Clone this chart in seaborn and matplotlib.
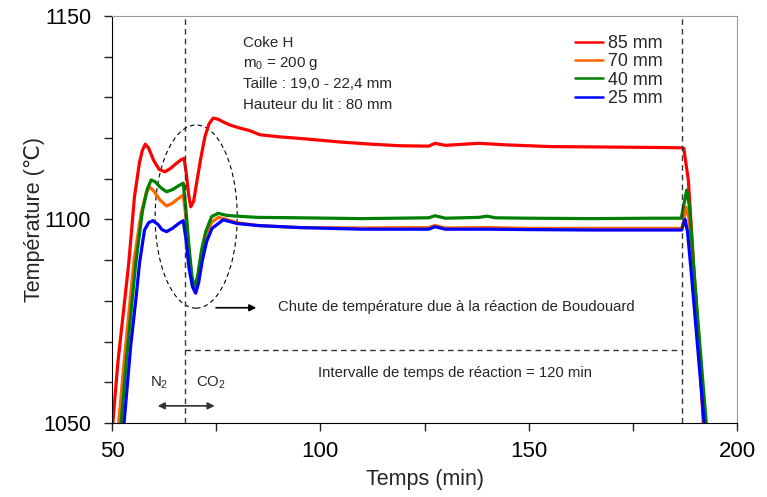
import pandas as pd
import seaborn as sns
import matplotlib.pyplot as plt
from matplotlib.patches import Ellipse

# values (time in min, temperature in degC)
t_85 = [50.2, 51.4, 54.0, 55.4, 56.6, 57.3, 58.0, 58.8, 60.0, 61.3, 62.7, 64.0, 65.5, 66.5, 67.3,
        67.8, 68.4, 68.9, 69.6, 70.3, 71.3, 72.3, 73.3, 74.3, 75.5, 77.0, 78.3, 80.5, 83.1, 85.5,
        90.0, 95.1, 105.0, 112.0, 119.1, 126.0, 127.5, 130.0, 138.0, 145.0, 155.0, 167.0, 178.0,
        186.7, 187.2, 188.3, 189.5, 190.7, 191.9]
T_85 = [1050.0, 1064.7, 1089.0, 1105.6, 1114.0, 1117.0, 1118.5, 1117.5, 1114.5, 1112.3, 1111.7, 1112.5, 1113.8, 1114.6, 1115.0,
        1111.5, 1106.0, 1103.1, 1104.5, 1108.9, 1115.0, 1120.3, 1123.5, 1124.9, 1124.6, 1123.8, 1123.2, 1122.5, 1121.8, 1120.8,
        1120.3, 1119.9, 1119.0, 1118.5, 1118.1, 1118.0, 1118.7, 1118.2, 1118.7, 1118.3, 1117.9, 1117.8, 1117.7,
        1117.6, 1117.5, 1109.7, 1090.0, 1071.2, 1050.0]

t_70 = [51.6, 53.0, 55.3, 57.0, 58.2, 59.0, 60.0, 61.5, 63.1, 64.5, 66.0, 67.1,
        67.7, 68.5, 69.2, 69.9, 70.6, 71.5, 72.5, 73.9, 75.5, 77.5, 80.0, 85.0, 95.0, 110.0,
        126.0, 127.5, 130.0, 140.0, 150.0, 165.0, 180.0,
        186.8, 187.3, 187.8, 188.4, 189.5, 190.8, 192.2]
T_70 = [1050.0, 1066.0, 1090.0, 1101.5, 1106.5, 1108.0, 1107.0, 1104.8, 1103.3, 1104.0, 1105.2, 1106.0,
        1101.0, 1092.0, 1085.0, 1082.0, 1085.5, 1091.5, 1096.0, 1099.3, 1100.5, 1100.0, 1099.2, 1098.5, 1098.0, 1097.9,
        1098.0, 1098.5, 1097.9, 1098.0, 1097.8, 1097.8, 1097.8,
        1097.8, 1100.5, 1103.0, 1100.5, 1089.0, 1071.0, 1050.0]

t_40 = [52.2, 53.5, 55.7, 57.3, 58.5, 59.4, 60.3, 61.7, 63.1, 64.5, 66.0, 67.1,
        67.7, 68.5, 69.2, 69.9, 70.6, 71.5, 72.5, 73.9, 75.5, 77.5, 80.0, 85.0, 95.0, 110.0,
        126.0, 127.5, 130.0, 138.0, 140.0, 142.0, 150.0, 165.0, 180.0,
        186.6, 187.2, 187.9, 188.6, 189.5, 191.0, 192.6]
T_40 = [1050.0, 1066.0, 1089.2, 1102.0, 1107.5, 1109.7, 1109.3, 1107.8, 1106.8, 1107.3, 1108.3, 1108.9,
        1103.0, 1093.0, 1086.0, 1083.1, 1086.5, 1092.5, 1097.0, 1100.7, 1101.5, 1101.0, 1100.8, 1100.5, 1100.4, 1100.2,
        1100.4, 1100.9, 1100.3, 1100.5, 1100.8, 1100.4, 1100.3, 1100.2, 1100.3,
        1100.3, 1103.5, 1107.2, 1103.0, 1089.2, 1070.0, 1050.0]

t_25 = [52.9, 54.5, 55.8, 56.6, 57.8, 58.8, 59.8, 61.0, 62.0, 63.1, 64.5, 66.0, 67.1,
        67.7, 68.5, 69.3, 70.1, 70.8, 71.7, 72.7, 74.0, 76.7, 80.0, 85.0, 95.0, 110.0,
        126.0, 127.5, 130.0, 140.0, 150.0, 165.0, 180.0,
        186.7, 187.1, 187.5, 188.1, 189.0, 190.5, 192.1]
T_25 = [1050.0, 1069.0, 1081.0, 1089.2, 1097.4, 1099.2, 1099.7, 1098.8, 1097.5, 1097.0, 1097.8, 1099.0, 1099.7,
        1095.5, 1088.0, 1083.5, 1081.9, 1084.5, 1090.0, 1094.5, 1097.8, 1099.9, 1099.0, 1098.5, 1098.0, 1097.6,
        1097.6, 1098.2, 1097.6, 1097.6, 1097.5, 1097.4, 1097.4,
        1097.4, 1098.8, 1100.0, 1097.0, 1087.0, 1069.0, 1050.0]

series_labels = ["85 mm", "70 mm", "40 mm", "25 mm"]
series_colors = ["#FF0000", "#FF6600", "#008000", "#0000FF"]

info_lines = ["Coke H", r"m$_0$ = 200 g", "Taille : 19,0 - 22,4 mm", "Hauteur du lit : 80 mm"]
x_ticks = [50, 100, 150, 200]
y_ticks = [1050, 1100, 1150]

# --- long table for seaborn ---
frames = []
for lab, tt, TT in zip(series_labels, [t_85, t_70, t_40, t_25], [T_85, T_70, T_40, T_25]):
    frames.append(pd.DataFrame({"temps": tt, "temp": TT, "serie": lab}))
df = pd.concat(frames, ignore_index=True)

sns.set_style("ticks")
plt.rcParams["font.family"] = ["Liberation Sans", "DejaVu Sans"]
plt.rcParams["mathtext.fontset"] = "custom"
plt.rcParams["mathtext.rm"] = "Liberation Sans"
plt.rcParams["mathtext.it"] = "Liberation Sans:italic"

fig = plt.figure(figsize=(7.67, 4.97), dpi=100)
ax = fig.add_axes([0.146, 0.149, 0.815, 0.819])

sns.lineplot(data=df, x="temps", y="temp", hue="serie", hue_order=series_labels,
             palette=series_colors, estimator=None, sort=False, linewidth=2.3, ax=ax)

ax.set_xlim(50, 200)
ax.set_ylim(1050, 1150)
ax.set_xticks(x_ticks)
ax.set_xticks([75, 125, 175], minor=True)
ax.set_yticks(y_ticks)
ax.set_yticks([1060, 1070, 1080, 1090, 1110, 1120, 1130, 1140], minor=True)
ax.tick_params(axis="both", which="both", direction="out", length=6, width=1, colors="#222222",
               labelcolor="black")
ax.tick_params(axis="x", pad=7, labelsize=16)
ax.tick_params(axis="y", pad=9, labelsize=15.5)
ax.set_xlabel("Temps (min)", fontsize=15.5, labelpad=5)
ax.set_ylabel("Température (℃)", fontsize=15.5, labelpad=-1)
for s in ["top", "right"]:
    ax.spines[s].set_color("#999999")
for s in ["left", "bottom"]:
    ax.spines[s].set_color("black")

# dashed guides
dash_kw = dict(color="#333333", linestyle=(0, (4, 3)), linewidth=1)
ax.axvline(67.5, **dash_kw)
ax.axvline(186.7, **dash_kw)
ax.plot([67.5, 186.7], [1068, 1068], **dash_kw)

ax.add_patch(Ellipse((70.2, 1100.7), 19.7, 45, fill=False, edgecolor="black",
                     linestyle=(0, (4, 3)), linewidth=0.8))

# annotations
for i, line in enumerate(info_lines):
    ax.text(81.4, 1143.4 - 5.1 * i, line, fontsize=10.9, va="center", ha="left")

ax.annotate("", xy=(85.3, 1078.3), xytext=(74.3, 1078.3),
            arrowprops=dict(arrowstyle="-|>", color="black", lw=1.2, mutation_scale=10))
ax.text(89.9, 1078.6, "Chute de température due à la réaction de Boudouard",
        fontsize=10.7, va="center", ha="left")
ax.text(132.3, 1062.2, "Intervalle de temps de réaction = 120 min",
        fontsize=10.7, va="center", ha="center")
ax.text(61.2, 1059.8, r"N$_2$", fontsize=10.7, va="center", ha="center")
ax.text(73.7, 1059.8, r"CO$_2$", fontsize=10.7, va="center", ha="center")
ax.annotate("", xy=(75.3, 1054.2), xytext=(60.3, 1054.2),
            arrowprops=dict(arrowstyle="<|-|>", color="#333333", lw=1.2, mutation_scale=10))

leg = ax.legend(loc="upper left", bbox_to_anchor=(0.741, 0.953), frameon=False, fontsize=12.9,
                handlelength=1.56, handletextpad=0.28, labelspacing=0.07,
                borderaxespad=0, borderpad=0)
for h in leg.get_lines():
    h.set_linewidth(1.8)

fig.savefig("out.png", dpi=100)
